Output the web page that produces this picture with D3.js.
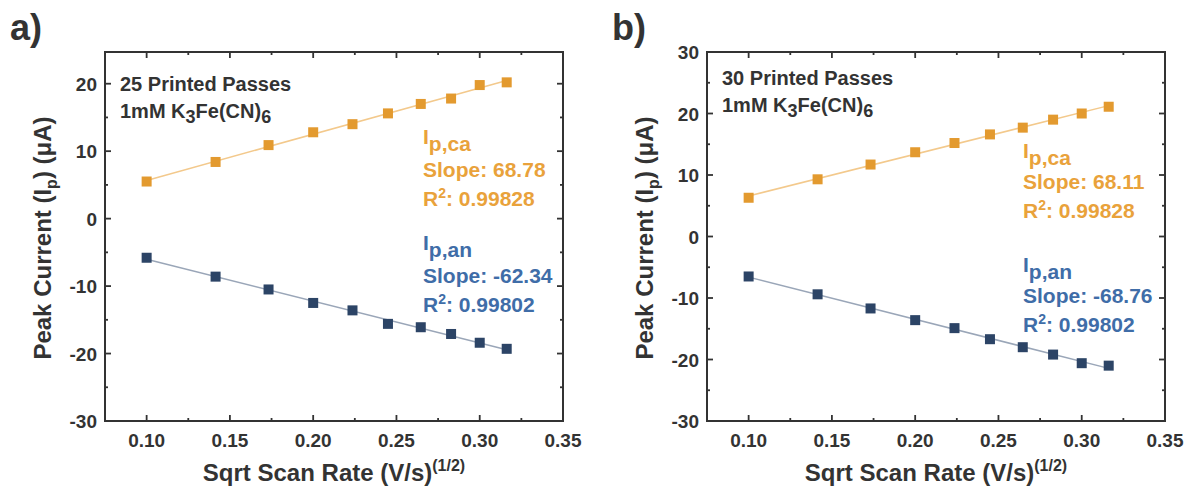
<!DOCTYPE html>
<html>
<head>
<meta charset="utf-8">
<script src="https://cdn.jsdelivr.net/npm/d3@7"></script>
<style>
  body { margin: 0; background: #fff; }
  svg { font-family: "Liberation Sans", Arial, sans-serif; font-weight: bold; }
</style>
</head>
<body>
<svg id="chart" width="1190" height="491"></svg>
<script>
// sqrt of scan rates 0.01 .. 0.10 V/s
const scanRoot = [0.1, 0.1414, 0.1732, 0.2, 0.2236, 0.2449, 0.2646, 0.2828, 0.3, 0.3162];

// panel a: 25 printed passes
const cathodicA = [5.5, 8.4, 10.9, 12.8, 14.0, 15.6, 17.0, 17.8, 19.8, 20.2];
const anodicA = [-5.8, -8.6, -10.5, -12.5, -13.6, -15.6, -16.1, -17.1, -18.4, -19.3];

// panel b: 30 printed passes
const cathodicB = [6.3, 9.3, 11.7, 13.7, 15.2, 16.6, 17.7, 19.0, 20.0, 21.1];
const anodicB = [-6.5, -9.4, -11.7, -13.6, -14.9, -16.7, -18.0, -19.2, -20.6, -21.0];

const xTicks = [0.10, 0.15, 0.20, 0.25, 0.30, 0.35];
const yTicksA = [-30, -20, -10, 0, 10, 20];
const yTicksB = [-30, -20, -10, 0, 10, 20, 30];

const orange = "#e39a2f", orangeText = "#e9a23b";
const navy = "#2c4466", blueText = "#3f6da8";
const ink = "#333";

const svg = d3.select("#chart");

function fitLine(xs, ys) {
  // least squares line through the points
  const mx = d3.mean(xs), my = d3.mean(ys);
  const b = d3.sum(xs, (x, i) => (x - mx) * (ys[i] - my)) / d3.sum(xs, x => (x - mx) ** 2);
  const a = my - b * mx;
  const x0 = xs[0], x1 = xs[xs.length - 1];
  return [[x0, a + b * x0], [x1, a + b * x1]];
}

function drawPanel(cfg) {
  const g = svg.append("g");
  const x = d3.scaleLinear().domain([0.075, 0.35]).range([cfg.left, cfg.right]);
  const y = d3.scaleLinear().domain(cfg.yDomain).range([421, 52]);

  // minor ticks
  const xMinor = [0.125, 0.175, 0.225, 0.275, 0.325];
  const yMinor = d3.range(-25, cfg.yDomain[1], 10);

  const tick = (sel, x1, y1, x2, y2) => sel.append("line")
    .attr("x1", x1).attr("y1", y1).attr("x2", x2).attr("y2", y2)
    .attr("stroke", ink).attr("stroke-width", 1.8);

  xTicks.forEach(v => {
    if (v > 0.349) return;
    tick(g, x(v), 421, x(v), 415);
    tick(g, x(v), 52, x(v), 58);
  });
  xMinor.forEach(v => {
    tick(g, x(v), 421, x(v), 418);
    tick(g, x(v), 52, x(v), 55);
  });
  cfg.yTicks.forEach(v => {
    tick(g, cfg.left, y(v), cfg.left + 6, y(v));
    tick(g, cfg.right, y(v), cfg.right - 6, y(v));
  });
  yMinor.forEach(v => {
    tick(g, cfg.left, y(v), cfg.left + 3, y(v));
    tick(g, cfg.right, y(v), cfg.right - 3, y(v));
  });

  // frame
  g.append("rect")
    .attr("x", cfg.left).attr("y", 52)
    .attr("width", cfg.right - cfg.left).attr("height", 421 - 52)
    .attr("fill", "none").attr("stroke", ink).attr("stroke-width", 2);

  // tick labels
  g.selectAll(".xl").data(xTicks).join("text")
    .attr("x", d => x(d)).attr("y", 447)
    .attr("text-anchor", "middle").attr("font-size", 19).attr("fill", ink)
    .text(d => d3.format(".2f")(d));
  g.selectAll(".yl").data(cfg.yTicks).join("text")
    .attr("x", cfg.left - 8).attr("y", d => y(d) + 7)
    .attr("text-anchor", "end").attr("font-size", 19).attr("fill", ink)
    .text(d => d);

  // axis titles
  const xt = g.append("text")
    .attr("x", (cfg.left + cfg.right) / 2).attr("y", 481)
    .attr("text-anchor", "middle").attr("font-size", 24).attr("fill", ink);
  xt.append("tspan").text("Sqrt Scan Rate (V/s)");
  xt.append("tspan").attr("dy", -10).attr("font-size", 16).text("(1/2)");

  const yt = g.append("text")
    .attr("transform", `translate(${cfg.left - 54},238) rotate(-90)`)
    .attr("text-anchor", "middle").attr("font-size", 24).attr("fill", ink);
  yt.append("tspan").text("Peak Current (I");
  yt.append("tspan").attr("dy", 6).attr("font-size", 16).text("p");
  yt.append("tspan").attr("dy", -6).text(") (\u03bcA)");

  // panel letter
  g.append("text").attr("x", cfg.left - 95).attr("y", 40)
    .attr("font-size", 36).attr("fill", ink).text(cfg.letter);

  // sample label
  g.append("text").attr("x", cfg.left + 15).attr("y", cfg.labelY)
    .attr("font-size", 20).attr("fill", ink).text(cfg.passes);
  const chem = g.append("text").attr("x", cfg.left + 15).attr("y", cfg.labelY + 27)
    .attr("font-size", 20).attr("fill", ink);
  chem.append("tspan").text("1mM K");
  chem.append("tspan").attr("dy", 5).attr("font-size", 18).text("3");
  chem.append("tspan").attr("dy", -5).text("Fe(CN)");
  chem.append("tspan").attr("dy", 5).attr("font-size", 18).text("6");

  // series
  const series = [
    { ys: cfg.cathodic, fill: orange, line: "#f3c98c" },
    { ys: cfg.anodic, fill: navy, line: "#9aa6b8" }
  ];
  series.forEach(s => {
    const pts = fitLine(scanRoot, s.ys);
    g.append("line")
      .attr("x1", x(pts[0][0])).attr("y1", y(pts[0][1]))
      .attr("x2", x(pts[1][0])).attr("y2", y(pts[1][1]))
      .attr("stroke", s.line).attr("stroke-width", 1.5);
    g.selectAll(null).data(scanRoot).join("rect")
      .attr("x", (d) => x(d) - 5)
      .attr("y", (d, i) => y(s.ys[i]) - 5)
      .attr("width", 10).attr("height", 10)
      .attr("fill", s.fill);
  });

  // fit annotations
  const note = (yBase, color, sub, slope, r2) => {
    const t1 = g.append("text").attr("x", cfg.noteX).attr("y", yBase)
      .attr("font-size", 21).attr("fill", color);
    t1.append("tspan").text("I");
    t1.append("tspan").attr("dy", 7).text(sub);
    g.append("text").attr("x", cfg.noteX).attr("y", yBase + cfg.gap1)
      .attr("font-size", 21).attr("fill", color).text("Slope: " + slope);
    const t3 = g.append("text").attr("x", cfg.noteX).attr("y", yBase + cfg.gap2)
      .attr("font-size", 21).attr("fill", color);
    t3.append("tspan").text("R");
    t3.append("tspan").attr("dy", -8).attr("font-size", 14).text("2");
    t3.append("tspan").attr("dy", 8).text(": " + r2);
  };
  note(cfg.caY, orangeText, "p,ca", cfg.caSlope, cfg.caR2);
  note(cfg.anY, blueText, "p,an", cfg.anSlope, cfg.anR2);
}

drawPanel({
  letter: "a)", left: 105, right: 563, yDomain: [-30, 24.7], yTicks: yTicksA,
  passes: "25 Printed Passes", labelY: 91, cathodic: cathodicA, anodic: anodicA,
  noteX: 423, caY: 144, anY: 250, gap1: 33, gap2: 62,
  caSlope: "68.78", caR2: "0.99828", anSlope: "-62.34", anR2: "0.99802"
});

drawPanel({
  letter: "b)", left: 707, right: 1165, yDomain: [-30, 30], yTicks: yTicksB,
  passes: "30 Printed Passes", labelY: 85, cathodic: cathodicB, anodic: anodicB,
  noteX: 1023, caY: 158, anY: 272, gap1: 31, gap2: 60,
  caSlope: "68.11", caR2: "0.99828", anSlope: "-68.76", anR2: "0.99802"
});
</script>
</body>
</html>
